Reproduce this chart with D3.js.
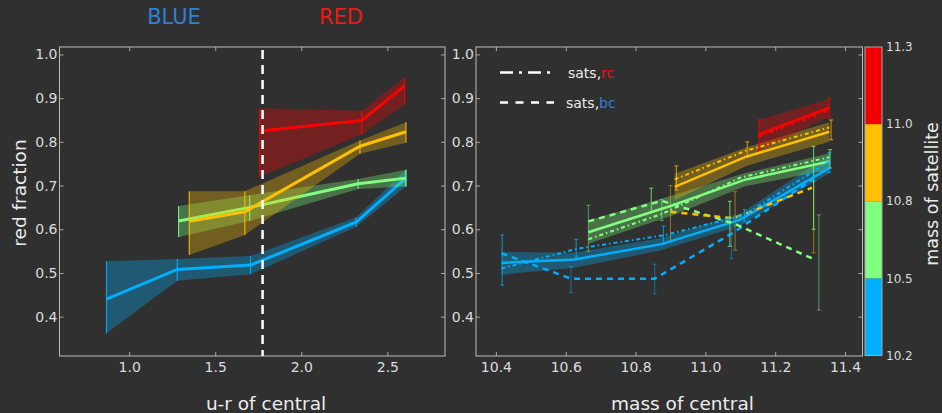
<!DOCTYPE html>
<html><head><meta charset="utf-8">
<script src="https://cdn.jsdelivr.net/npm/d3@7"></script>
<style>
html,body{margin:0;padding:0;background:#303030;}
svg{display:block;font-family:"DejaVu Sans",sans-serif;}
</style></head><body>
<svg id="chart" width="942" height="413"></svg>
<script>
// ---------------- DATA ----------------
const massBins = [10.2, 10.5, 10.8, 11.0, 11.3];          // colorbar tick labels
const yTicks = [0.4, 0.5, 0.6, 0.7, 0.8, 0.9, 1.0];
const leftXTicks = [1.0, 1.5, 2.0, 2.5];
const rightXTicks = [10.4, 10.6, 10.8, 11.0, 11.2, 11.4];
const colorSplit = 1.775;                                  // u-r separating BLUE / RED

// left panel: [u-r, red fraction, lower, upper]
const leftBlue   = [[0.868,0.440,0.362,0.527],[1.279,0.508,0.482,0.532],[1.705,0.518,0.497,0.539],[2.318,0.616,0.605,0.627],[2.608,0.717,0.698,0.736]];
const leftGreen  = [[1.287,0.619,0.582,0.653],[1.700,0.650,0.619,0.678],[2.330,0.704,0.692,0.715],[2.608,0.717,0.698,0.736]];
const leftYellow = [[1.349,0.618,0.541,0.687],[1.672,0.640,0.587,0.687],[2.341,0.790,0.773,0.803],[2.608,0.823,0.798,0.845]];
const leftRed    = [[1.758,0.825,0.720,0.877],[2.351,0.849,0.817,0.871],[2.600,0.928,0.886,0.948]];

// right panel, all centrals: [mass, red fraction, lower, upper]
const rightBlue   = [[10.416,0.523,0.496,0.548],[10.626,0.531,0.512,0.546],[10.874,0.566,0.552,0.580],[11.100,0.622,0.608,0.636],[11.355,0.740,0.728,0.770]];
const rightGreen  = [[10.665,0.593,0.567,0.620],[10.907,0.655,0.632,0.678],[11.112,0.713,0.698,0.728],[11.355,0.755,0.736,0.774]];
const rightYellow = [[10.912,0.697,0.667,0.727],[11.117,0.766,0.745,0.787],[11.355,0.823,0.800,0.845]];
const rightRed    = [[11.153,0.817,0.778,0.850],[11.355,0.878,0.858,0.898]];

// satellites of red centrals (dash-dot): [mass, red fraction]
const rcBlue   = [[10.416,0.510],[10.630,0.555],[10.880,0.586],[11.110,0.632],[11.355,0.755]];
const rcGreen  = [[10.665,0.577],[10.875,0.635],[11.100,0.718],[11.355,0.765]];
const rcYellow = [[10.912,0.714],[11.117,0.780],[11.355,0.833]];
const rcRed    = [[11.153,0.812],[11.355,0.872]];

// satellites of blue centrals (dashed): [mass, red fraction]
const bcBlue   = [[10.416,0.545],[10.615,0.487],[10.855,0.487],[11.075,0.590],[11.310,0.715]];
const bcGreen  = [[10.665,0.618],[10.875,0.665],[11.085,0.612],[11.315,0.530]];
const bcYellow = [[10.900,0.640],[11.080,0.625],[11.305,0.695]];

// error bars: [mass, lower, upper]
const errRcBlue   = [[10.418,0.472,0.587],[10.630,0.536,0.577],[10.880,0.566,0.607],[11.112,0.618,0.645],[11.355,0.730,0.775]];
const errBcBlue   = [[10.615,0.455,0.515],[10.855,0.452,0.520],[11.075,0.533,0.600]];
const errRcGreen  = [[10.845,0.640,0.694],[11.070,0.561,0.664],[11.310,0.600,0.790],[11.357,0.740,0.782]];
const errBcGreen  = [[10.665,0.550,0.655],[10.875,0.620,0.668],[11.325,0.415,0.633]];
const errRcYellow = [[10.917,0.690,0.745],[11.120,0.766,0.800],[11.360,0.805,0.850]];
const errBcYellow = [[10.900,0.572,0.700],[11.085,0.552,0.686],[11.310,0.546,0.710]];
const errRcRed    = [[11.153,0.778,0.850],[11.355,0.855,0.900]];

// ---------------- STYLE ----------------
const C = {blue:"#00b0ff", green:"#80ff80", yellow:"#ffc000", red:"#ff0000"};
const binColors = [C.blue, C.green, C.yellow, "#f00000"];
const tickCol = "#dcdcdc", frameCol = "#bcbcbc";

const svg = d3.select("#chart");
svg.append("rect").attr("width",942).attr("height",413).attr("fill","#303030");

const y  = d3.scaleLinear().domain([0.31,1.017]).range([356,47]);
const xL = d3.scaleLinear().domain([0.595,2.835]).range([59.5,445]);
const xR = d3.scaleLinear().domain([10.343,11.45]).range([476,862.5]);

function frame(x, xt){
  const [x0,x1] = x.range(), [y1,y0] = y.range();
  const g = svg.append("g");
  const fmt = d3.format(".1f");
  const styleAx = a => { a.select(".domain").remove(); a.selectAll("line").attr("stroke","#a8a8a8");
    a.selectAll("text").attr("fill",tickCol).style("font-size","14px").style("font-family","DejaVu Sans"); };
  g.append("g").attr("transform",`translate(0,${y1})`).call(d3.axisBottom(x).tickValues(xt).tickFormat(fmt).tickSize(-4).tickSizeOuter(0).tickPadding(6)).call(styleAx);
  g.append("g").attr("transform",`translate(0,${y0})`).call(d3.axisTop(x).tickValues(xt).tickFormat("").tickSize(-4).tickSizeOuter(0)).call(styleAx);
  g.append("g").attr("transform",`translate(${x0},0)`).call(d3.axisLeft(y).tickValues(yTicks).tickFormat(fmt).tickSize(-4).tickSizeOuter(0).tickPadding(2)).call(styleAx);
  g.append("g").attr("transform",`translate(${x1},0)`).call(d3.axisRight(y).tickValues(yTicks).tickFormat("").tickSize(-4).tickSizeOuter(0)).call(styleAx);
  g.append("rect").attr("x",x0).attr("y",y0).attr("width",x1-x0).attr("height",y1-y0)
    .attr("fill","none").attr("stroke",frameCol).attr("stroke-width",1);
}

function band(x, data, color, op){
  svg.append("path").datum(data)
    .attr("d", d3.area().x(d=>x(d[0])).y0(d=>y(d[2])).y1(d=>y(d[3])))
    .attr("fill", color).attr("fill-opacity", op).attr("stroke","none");
}
function line(x, data, color, w, dash){
  svg.append("path").datum(data)
    .attr("d", d3.line().x(d=>x(d[0])).y(d=>y(d[1])))
    .attr("fill","none").attr("stroke",color).attr("stroke-width",w)
    .attr("stroke-dasharray", dash || null);
}
function errbars(x, data, color, op, w, cap){
  const g = svg.append("g").attr("stroke",color).attr("stroke-opacity",op).attr("stroke-width",w||1);
  data.forEach(d=>{
    const cx = x(d[0]);
    g.append("line").attr("x1",cx).attr("x2",cx).attr("y1",y(d[1])).attr("y2",y(d[2]));
    if (cap) {
      g.append("line").attr("x1",cx-cap).attr("x2",cx+cap).attr("y1",y(d[1])).attr("y2",y(d[1]));
      g.append("line").attr("x1",cx-cap).attr("x2",cx+cap).attr("y1",y(d[2])).attr("y2",y(d[2]));
    }
  });
}

// ---------------- LEFT PANEL ----------------
frame(xL, leftXTicks);
[[leftBlue,C.blue],[leftGreen,C.green],[leftYellow,C.yellow],[leftRed,C.red]].forEach(([d,c])=>{
  band(xL, d, c, 0.32);
  errbars(xL, d.map(r=>[r[0],r[2],r[3]]), c, 0.85, 1.2, 0);
  line(xL, d, c, 3);
});
svg.append("line").attr("x1",xL(colorSplit)).attr("x2",xL(colorSplit)).attr("y1",50).attr("y2",356)
  .attr("stroke","#ffffff").attr("stroke-width",2.5).attr("stroke-dasharray","9,6");

// ---------------- RIGHT PANEL ----------------
frame(xR, rightXTicks);
const rcDash = "4,3,1.5,3", bcDash = "6,5";
[[rightBlue,C.blue],[rightGreen,C.green],[rightYellow,C.yellow],[rightRed,C.red]].forEach(([d,c])=>band(xR,d,c,0.32));
[[errBcBlue,C.blue],[errBcGreen,C.green],[errBcYellow,C.yellow]].forEach(([d,c])=>errbars(xR,d,c,0.45,1.1,2));
[[errRcBlue,C.blue],[errRcGreen,C.green],[errRcYellow,C.yellow],[errRcRed,C.red]].forEach(([d,c])=>errbars(xR,d,c,0.7,1.1,2));
[[rightBlue,C.blue],[rightGreen,C.green],[rightYellow,C.yellow],[rightRed,C.red]].forEach(([d,c])=>line(xR,d,c,2.5));
[[bcBlue,C.blue],[bcGreen,C.green],[bcYellow,C.yellow]].forEach(([d,c])=>line(xR,d,c,2.5,bcDash));
[[rcBlue,C.blue],[rcGreen,C.green],[rcYellow,C.yellow],[rcRed,C.red]].forEach(([d,c])=>line(xR,d,c,2,rcDash));

// legend
svg.append("line").attr("x1",500).attr("x2",554).attr("y1",72.5).attr("y2",72.5)
  .attr("stroke","#ffffff").attr("stroke-width",2.5).attr("stroke-dasharray","13,6,3,6");
svg.append("line").attr("x1",500).attr("x2",554).attr("y1",102.5).attr("y2",102.5)
  .attr("stroke","#ffffff").attr("stroke-width",2.5).attr("stroke-dasharray","8,7.5");
const lt1 = svg.append("text").attr("x",568).attr("y",77.5).style("font-size","14px");
lt1.append("tspan").attr("fill","#ececec").text("sats,");
lt1.append("tspan").attr("fill","#ee1111").text("rc");
const lt2 = svg.append("text").attr("x",566).attr("y",107.5).style("font-size","14px");
lt2.append("tspan").attr("fill","#ececec").text("sats,");
lt2.append("tspan").attr("fill","#2f80d6").text("bc");

// ---------------- COLORBAR ----------------
const cb = d3.scaleLinear().domain([0, massBins.length-1]).range([355.5, 47]);
binColors.forEach((c,i)=>{
  svg.append("rect").attr("x",865).attr("width",17).attr("y",cb(i+1)).attr("height",cb(i)-cb(i+1)).attr("fill",c);
});
svg.append("rect").attr("x",865).attr("y",47).attr("width",17).attr("height",308.5)
  .attr("fill","none").attr("stroke","#a8a8a8").attr("stroke-width",1);
massBins.forEach((m,i)=>{
  svg.append("text").attr("x",886).attr("y",cb(i)).attr("dy","0.35em")
    .attr("fill",tickCol).style("font-size","12px").text(d3.format(".1f")(m));
});
svg.append("text").attr("transform","translate(938,194) rotate(-90)").attr("text-anchor","middle")
  .attr("fill","#ececec").style("font-size","17.5px").text("mass of satellite");

// ---------------- TITLES / LABELS ----------------
svg.append("text").attr("x",174).attr("y",23.5).attr("text-anchor","middle").attr("fill","#2f80d6").style("font-size","21px").text("BLUE");
svg.append("text").attr("x",341).attr("y",23.5).attr("text-anchor","middle").attr("fill","#ee1a14").style("font-size","21px").text("RED");
svg.append("text").attr("transform","translate(26,193) rotate(-90)").attr("text-anchor","middle")
  .attr("fill","#ececec").style("font-size","18.5px").text("red fraction");
svg.append("text").attr("x",266).attr("y",410).attr("text-anchor","middle").attr("fill","#ececec").style("font-size","18.5px").text("u-r of central");
svg.append("text").attr("x",682.5).attr("y",410).attr("text-anchor","middle").attr("fill","#ececec").style("font-size","18.5px").text("mass of central");
</script>
</body></html>
